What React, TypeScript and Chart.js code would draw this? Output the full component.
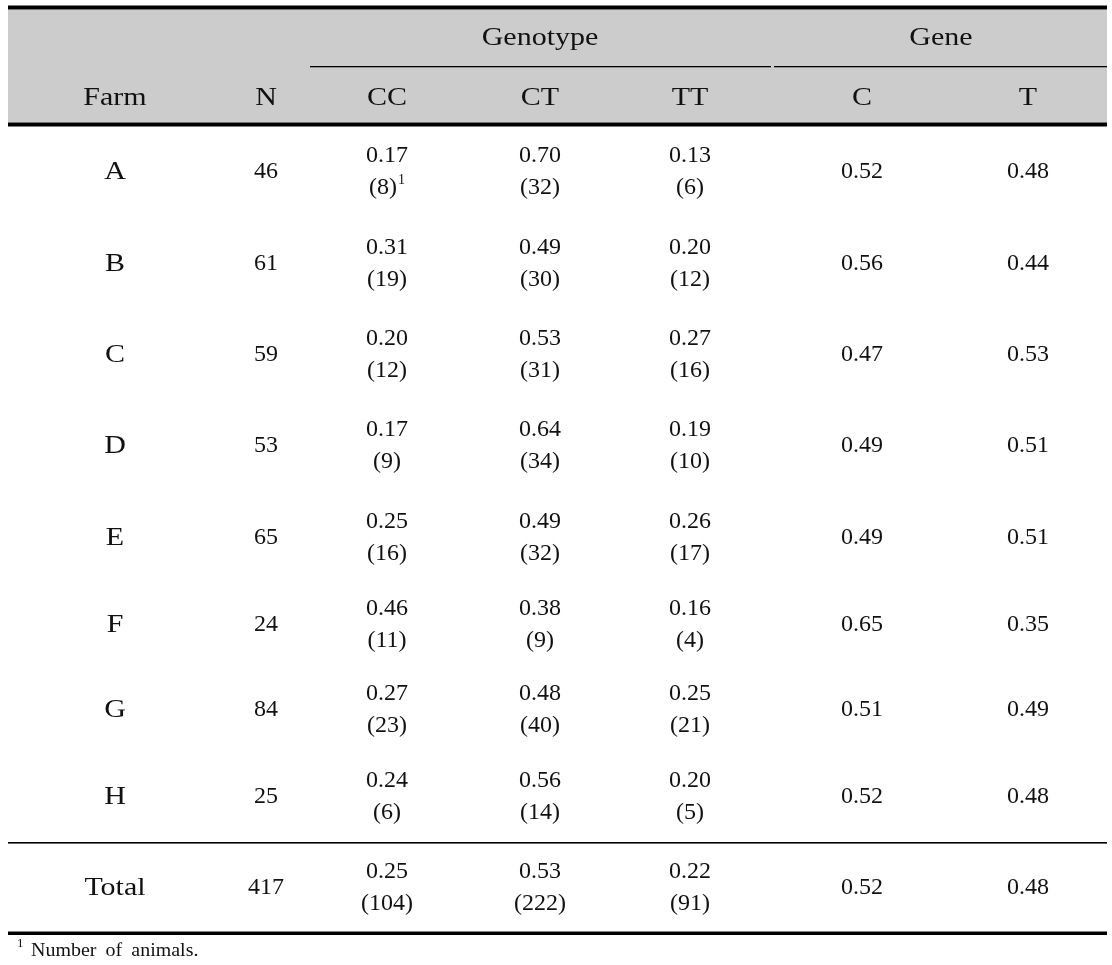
import React, { useEffect, useRef } from "react";
import { Chart, registerables } from "chart.js";

Chart.register(...registerables);

// ---------- data ----------
const farms = ["A", "B", "C", "D", "E", "F", "G", "H"];
const nValues = [46, 61, 59, 53, 65, 24, 84, 25];
const ccFreq = [0.17, 0.31, 0.2, 0.17, 0.25, 0.46, 0.27, 0.24];
const ccCount = [8, 19, 12, 9, 16, 11, 23, 6];
const ctFreq = [0.7, 0.49, 0.53, 0.64, 0.49, 0.38, 0.48, 0.56];
const ctCount = [32, 30, 31, 34, 32, 9, 40, 14];
const ttFreq = [0.13, 0.2, 0.27, 0.19, 0.26, 0.16, 0.25, 0.2];
const ttCount = [6, 12, 16, 10, 17, 4, 21, 5];
const cFreq = [0.52, 0.56, 0.47, 0.49, 0.49, 0.65, 0.51, 0.52];
const tFreq = [0.48, 0.44, 0.53, 0.51, 0.51, 0.35, 0.49, 0.48];

const totalLabel = "Total";
const totalN = 417;
const totalGenoFreq = [0.25, 0.53, 0.22];
const totalGenoCount = [104, 222, 91];
const totalGeneFreq = [0.52, 0.48];

const groupHeaders = ["Genotype", "Gene"];
const columnHeaders = ["Farm", "N", "CC", "CT", "TT", "C", "T"];
const footnoteMark = "1";
const footnoteText = "Number of animals.";

// ---------- layout (pixel space of the hidden linear scales) ----------
const W = 1112;
const H = 965;
const COL_X = [115, 266, 387, 540, 690, 862, 1028];
const ROW_Y = [172, 264, 355, 446, 538, 625, 710, 797, 888];
const GROUP_X = [540, 941];
const GROUP_Y = 38;
const HEAD_Y = 98;
const LINE_GAP = 16;
const FONT = "'Liberation Serif', 'Times New Roman', serif";
const NUM_FONT = `24px ${FONT}`;
const TXT_FONT = `25px ${FONT}`;
const TXT_STRETCH = 1.2;

type Cell = { lines: string[]; sup?: string; text?: boolean };

const f2 = (v: number) => v.toFixed(2);

function buildColumns(): Cell[][] {
  const farmCol: Cell[] = [...farms, totalLabel].map((s) => ({ lines: [s], text: true }));
  const nCol: Cell[] = [...nValues, totalN].map((v) => ({ lines: [String(v)] }));
  const geno = (freq: number[], cnt: number[], ti: number): Cell[] =>
    [...freq, totalGenoFreq[ti]].map((v, i) => ({
      lines: [f2(v), `(${[...cnt, totalGenoCount[ti]][i]})`],
    }));
  const cc = geno(ccFreq, ccCount, 0);
  cc[0].sup = footnoteMark;
  const ct = geno(ctFreq, ctCount, 1);
  const tt = geno(ttFreq, ttCount, 2);
  const cG: Cell[] = [...cFreq, totalGeneFreq[0]].map((v) => ({ lines: [f2(v)] }));
  const tG: Cell[] = [...tFreq, totalGeneFreq[1]].map((v) => ({ lines: [f2(v)] }));
  return [farmCol, nCol, cc, ct, tt, cG, tG];
}

function setProp(ctx: any, prop: string, v: string) {
  try {
    ctx[prop] = v;
  } catch (e) {}
}

// wide serif letters (the reference font has broad Latin glyphs)
function textCentered(ctx: any, s: string, x: number, y: number) {
  ctx.save();
  ctx.font = TXT_FONT;
  ctx.textAlign = "center";
  ctx.translate(x, y);
  ctx.scale(TXT_STRETCH, 1);
  ctx.fillText(s, 0, 0);
  ctx.restore();
}

export default function App() {
  const ref = useRef<HTMLCanvasElement | null>(null);

  useEffect(() => {
    if (!ref.current) return;
    const columns = buildColumns();

    const tablePlugin = {
      id: "tablePlugin",
      beforeDatasetsDraw(chart: any) {
        const { ctx, scales } = chart;
        const x = scales.x;
        const y = scales.y;
        const px = (v: number) => x.getPixelForValue(v);
        const py = (v: number) => y.getPixelForValue(v);
        ctx.save();
        ctx.fillStyle = "#ffffff";
        ctx.fillRect(0, 0, chart.width, chart.height);
        // header background
        ctx.fillStyle = "#cccccc";
        ctx.fillRect(px(8), py(9.5), px(1107) - px(8), py(122.5) - py(9.5));
        // thick rules
        ctx.fillStyle = "#000000";
        ctx.fillRect(px(8), py(5.5), px(1107) - px(8), py(9.5) - py(5.5));
        ctx.fillRect(px(8), py(122.5), px(1107) - px(8), py(126.5) - py(122.5));
        ctx.fillRect(px(8), py(931.5), px(1107) - px(8), py(935) - py(931.5));
        // thin rules
        ctx.fillRect(px(310), py(66), px(771) - px(310), 1.3);
        ctx.fillRect(px(774), py(66), px(1107) - px(774), 1.3);
        ctx.fillRect(px(8), py(842), px(1107) - px(8), 1.6);

        // headers
        ctx.fillStyle = "#111111";
        ctx.textBaseline = "middle";
        groupHeaders.forEach((t, i) => textCentered(ctx, t, px(GROUP_X[i]), py(GROUP_Y)));
        columnHeaders.forEach((t, i) => textCentered(ctx, t, px(COL_X[i]), py(HEAD_Y)));

        // footnote
        ctx.textAlign = "left";
        ctx.font = `13px ${FONT}`;
        ctx.fillText(footnoteMark, px(17), py(944));
        ctx.save();
        ctx.translate(px(31), py(951));
        ctx.scale(1.05, 1);
        ctx.font = `19px ${FONT}`;
        setProp(ctx, "wordSpacing", "4px");
        ctx.fillText(footnoteText, 0, 0);
        setProp(ctx, "wordSpacing", "0px");
        ctx.restore();
        ctx.restore();
      },
      afterDatasetsDraw(chart: any) {
        const { ctx } = chart;
        ctx.save();
        ctx.fillStyle = "#111111";
        ctx.textBaseline = "middle";
        chart.data.datasets.forEach((ds: any, di: number) => {
          const meta = chart.getDatasetMeta(di);
          meta.data.forEach((el: any, ri: number) => {
            const cell: Cell = columns[di][ri];
            const cx = el.x;
            const cy = el.y;
            const n = cell.lines.length;
            cell.lines.forEach((line, li) => {
              const ly = n === 1 ? cy : cy + (li === 0 ? -LINE_GAP : LINE_GAP);
              if (cell.text) {
                textCentered(ctx, line, cx, ly);
                return;
              }
              ctx.font = NUM_FONT;
              if (cell.sup && li === n - 1) {
                const w1 = ctx.measureText(line).width;
                ctx.font = `14px ${FONT}`;
                const w2 = ctx.measureText(cell.sup).width;
                const start = cx - (w1 + w2 + 1) / 2;
                ctx.textAlign = "left";
                ctx.font = NUM_FONT;
                ctx.fillText(line, start, ly);
                ctx.font = `14px ${FONT}`;
                ctx.fillText(cell.sup, start + w1 + 1, ly - 8);
              } else {
                ctx.textAlign = "center";
                ctx.fillText(line, cx, ly);
              }
            });
          });
        });
        ctx.restore();
      },
    };

    const datasets = columns.map((col, ci) => ({
      label: columnHeaders[ci],
      data: col.map((_, ri) => ({ x: COL_X[ci], y: ROW_Y[ri] })),
      pointRadius: 0,
      pointHoverRadius: 0,
      showLine: false,
    }));

    const chart = new Chart(ref.current, {
      type: "scatter",
      data: { datasets },
      options: {
        responsive: false,
        animation: false,
        events: [],
        layout: { padding: 0 },
        plugins: { legend: { display: false }, tooltip: { enabled: false } },
        scales: {
          x: { type: "linear", display: false, min: 0, max: W },
          y: { type: "linear", display: false, min: 0, max: H, reverse: true },
        },
      },
      plugins: [tablePlugin],
    } as any);

    return () => chart.destroy();
  }, []);

  return (
    <div style={{ position: "absolute", left: 0, top: 0, width: W, height: H, background: "#fff" }}>
      <canvas ref={ref} width={W} height={H} style={{ display: "block", width: W, height: H }} />
    </div>
  );
}
